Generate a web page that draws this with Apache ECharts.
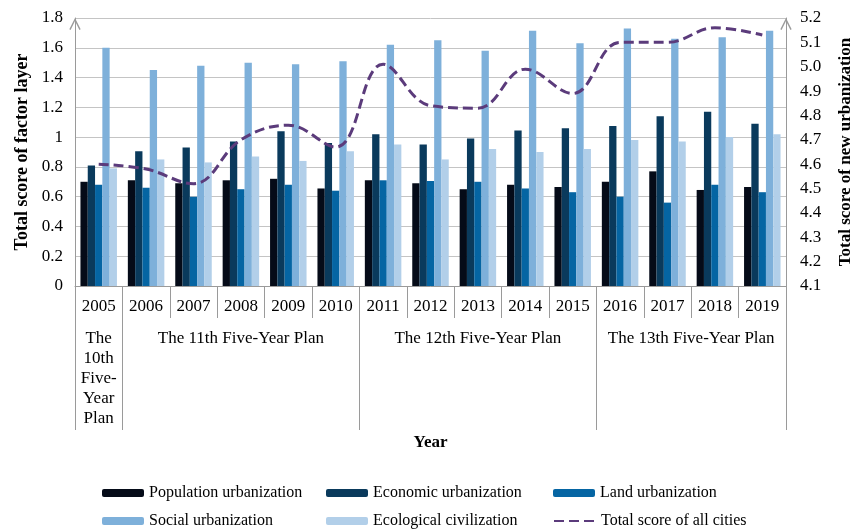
<!DOCTYPE html>
<html>
<head>
<meta charset="utf-8">
<script src="https://cdn.jsdelivr.net/npm/echarts@6/dist/echarts.min.js"></script>
<style>
  html, body { margin: 0; padding: 0; background: #fff; }
  #chart { width: 852px; height: 530px; }
</style>
</head>
<body>
<div id="chart"></div>
<script>
var years = ['2005', '2006', '2007', '2008', '2009', '2010', '2011', '2012', '2013', '2014', '2015', '2016', '2017', '2018', '2019'];
var population = [0.70, 0.71, 0.69, 0.71, 0.72, 0.655, 0.71, 0.69, 0.65, 0.68, 0.665, 0.70, 0.77, 0.645, 0.665];
var economic = [0.81, 0.905, 0.93, 0.97, 1.04, 0.96, 1.02, 0.95, 0.99, 1.045, 1.06, 1.075, 1.14, 1.17, 1.09];
var land = [0.68, 0.66, 0.60, 0.65, 0.68, 0.64, 0.71, 0.705, 0.70, 0.655, 0.63, 0.60, 0.56, 0.68, 0.63];
var social = [1.60, 1.45, 1.48, 1.50, 1.49, 1.51, 1.62, 1.65, 1.58, 1.715, 1.63, 1.73, 1.66, 1.67, 1.715];
var ecological = [0.79, 0.85, 0.83, 0.87, 0.84, 0.905, 0.95, 0.85, 0.92, 0.90, 0.92, 0.98, 0.97, 1.00, 1.02];
var totalScore = [4.60, 4.58, 4.52, 4.70, 4.76, 4.67, 5.01, 4.84, 4.83, 4.99, 4.89, 5.10, 5.10, 5.16, 5.13];

// five-year plans: label and how many years each covers
var planNames = ['The\n10th\nFive-\nYear\nPlan', 'The 11th Five-Year Plan', 'The 12th Five-Year Plan', 'The 13th Five-Year Plan'];
var planYears = [1, 5, 5, 4];

var planBounds = [0];
var planCenters = [];
planYears.forEach(function (n, i) {
    planCenters.push(planBounds[i] + n / 2);
    planBounds.push(planBounds[i] + n);
});

var font = 'Liberation Serif';
var axisGrey = '#9a9a9a';
var arrow = 'path://M0,10 L5,0 L10,10 L8.9,10.6 L5,2.6 L1.1,10.6 Z';

var dom = document.getElementById('chart');
var myChart = echarts.init(dom);

function barSeries(name, data, color) {
    return {
        name: name,
        type: 'bar',
        xAxisIndex: 0,
        yAxisIndex: 0,
        barGap: 0,
        barCategoryGap: '23%',
        itemStyle: { color: color },
        data: data
    };
}

// one legend per entry so the two rows line up in columns
function legendItem(name, left, top, extra) {
    var l = {
        left: left,
        top: top,
        itemWidth: 42,
        itemHeight: 8,
        padding: 0,
        textStyle: { fontFamily: font, fontSize: 16, color: '#000' },
        data: [name]
    };
    for (var k in extra) l[k] = extra[k];
    return l;
}

var option = {
    animation: false,
    textStyle: { fontFamily: font },
    grid: { left: 75, right: 66, top: 18, bottom: 244, containLabel: false, outerBoundsMode: 'none' },
    legend: [
        legendItem('Population urbanization', 102, 485),
        legendItem('Economic urbanization', 326, 485),
        legendItem('Land urbanization', 553, 485),
        legendItem('Social urbanization', 102, 513),
        legendItem('Ecological civilization', 326, 513),
        legendItem('Total score of all cities', 553, 513, { itemStyle: { opacity: 0 } })
    ],
    xAxis: [
        {
            type: 'category',
            data: years,
            position: 'bottom',
            axisLine: { lineStyle: { color: axisGrey } },
            axisTick: { show: true, length: 32, lineStyle: { color: axisGrey } },
            axisLabel: { margin: 12, fontFamily: font, fontSize: 17, color: '#000', interval: 0 },
            splitLine: { show: false }
        },
        {
            type: 'value',
            min: 0,
            max: years.length,
            position: 'bottom',
            name: 'Year',
            nameLocation: 'middle',
            nameGap: 146,
            nameTextStyle: { fontFamily: font, fontSize: 17, fontWeight: 'bold', color: '#000' },
            axisLine: { show: false },
            splitLine: { show: false },
            axisTick: { show: true, length: 144, customValues: planBounds, lineStyle: { color: axisGrey } },
            axisLabel: {
                customValues: planCenters,
                margin: 43,
                fontFamily: font,
                fontSize: 17,
                lineHeight: 20,
                color: '#000',
                formatter: function (v) {
                    var i = planCenters.indexOf(v);
                    return i >= 0 ? planNames[i] : '';
                }
            }
        }
    ],
    yAxis: [
        {
            type: 'value',
            min: 0,
            max: 1.8,
            interval: 0.2,
            name: 'Total score of factor layer',
            nameLocation: 'middle',
            nameRotate: 90,
            nameGap: 44,
            nameTextStyle: { fontFamily: font, fontSize: 18, fontWeight: 'bold', color: '#000' },
            axisLine: { show: true, symbol: ['none', arrow], symbolSize: [12, 12], symbolOffset: [0, -6], lineStyle: { color: axisGrey } },
            axisTick: { show: false },
            axisLabel: { margin: 12, fontFamily: font, fontSize: 17, color: '#000' },
            splitLine: { show: true, lineStyle: { color: '#c4c4c4' } }
        },
        {
            type: 'value',
            min: 4.1,
            max: 5.2,
            interval: 0.1,
            position: 'right',
            name: 'Total score of new urbanization',
            nameLocation: 'middle',
            nameRotate: 90,
            nameGap: 51,
            nameTextStyle: { fontFamily: font, fontSize: 17, fontWeight: 'bold', color: '#000' },
            axisLine: { show: true, symbol: ['none', arrow], symbolSize: [12, 12], symbolOffset: [0, -6], lineStyle: { color: axisGrey } },
            axisTick: { show: false },
            axisLabel: {
                margin: 14, fontFamily: font, fontSize: 17, color: '#000',
                formatter: function (v) { return v.toFixed(1); }
            },
            splitLine: { show: false }
        }
    ],
    series: [
        barSeries('Population urbanization', population, '#050b18'),
        barSeries('Economic urbanization', economic, '#0a3a5c'),
        barSeries('Land urbanization', land, '#0565a3'),
        barSeries('Social urbanization', social, '#7eb0da'),
        barSeries('Ecological civilization', ecological, '#b2cfe9'),
        {
            name: 'Total score of all cities',
            type: 'line',
            xAxisIndex: 0,
            yAxisIndex: 1,
            smooth: 0.4,
            symbol: 'none',
            z: 5,
            lineStyle: { color: '#5b3b7b', width: 3, type: [10, 5] },
            itemStyle: { color: '#5b3b7b' },
            data: totalScore
        }
    ]
};

if (option && typeof option === 'object') {
    myChart.setOption(option, true);
}
window.addEventListener('resize', function () {
    myChart.resize();
});
</script>
</body>
</html>
